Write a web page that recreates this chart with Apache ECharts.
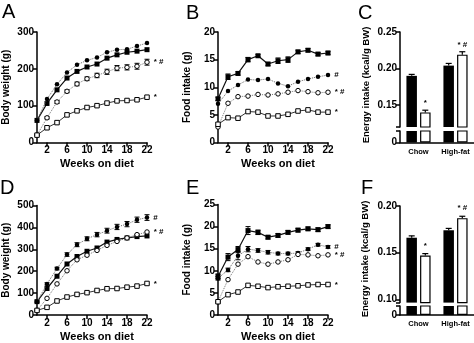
<!DOCTYPE html>
<html>
<head>
<meta charset="utf-8">
<script src="https://cdn.jsdelivr.net/npm/echarts@6/dist/echarts.min.js"></script>
<style>
  html, body { margin: 0; padding: 0; background: #fff; }
  #chart { width: 474px; height: 343px; }
</style>
</head>
<body>
<div id="chart"></div>
<script>
// ---- Data ----
const weeks = [0, 2, 4, 6, 8, 10, 12, 14, 16, 18, 20, 22];
const weekTicks = [2, 6, 10, 14, 18, 22];

// Panel A: body weight (g)
const aFilledSquare = [60, 106, 143, 175, 193, 205, 213, 229, 238, 245, 248, 252];
const aFilledCircle = [60, 118, 158, 190, 211, 223, 231, 245, 252, 253, 262, 270];
const aOpenCircle   = [20, 67, 110, 139, 159, 173, 182, 192, 202, 204, 207, 218];
const aOpenSquare   = [20, 40, 54, 75, 86, 95, 100, 107, 113, 114, 116, 123];
const aOpenCircleErr = [1, 3, 4, 4, 5, 5, 6, 7, 7, 7, 8, 8];
const aNotes = ['', '', '* #', '*'];

// Panel B: food intake (g)
const bFilledSquare = [7.9, 11.9, 12.5, 15.0, 15.7, 14.2, 14.8, 15.0, 16.4, 16.7, 16.0, 16.2];
const bFilledCircle = [7.0, 9.3, 10.4, 11.4, 11.3, 11.5, 10.7, 10.2, 11.0, 11.5, 11.9, 12.2];
const bOpenCircle   = [2.8, 7.1, 8.3, 8.4, 8.7, 8.6, 8.8, 9.1, 9.4, 9.2, 9.0, 9.1];
const bOpenSquare   = [3.3, 4.5, 4.4, 5.6, 5.5, 4.8, 4.8, 5.1, 5.7, 5.9, 5.5, 5.5];
const bFilledSquareErr = [0.3, 0.5, 0.3, 0.4, 0.2, 0.3, 0.5, 0.5, 0.3, 0.3, 0.3, 0.3];
const bNotes = ['', '#', '* #', '*'];

// Panel D: body weight (g)
const dFilledSquare = [61, 121, 177, 233, 267, 291, 306, 333, 345, 352, 358, 361];
const dFilledCircle = [61, 142, 212, 276, 321, 348, 367, 385, 402, 415, 435, 445];
const dOpenCircle   = [21, 76, 142, 202, 252, 273, 295, 318, 336, 352, 367, 379];
const dOpenSquare   = [21, 35, 64, 82, 94, 102, 112, 120, 121, 127, 132, 144];
const dFilledCircleErr = [3, 5, 6, 8, 9, 9, 10, 11, 12, 12, 12, 13];
const dNotes = ['', '#', '* #', '*'];

// Panel E: food intake (g)
const eFilledSquare = [8.7, 13.1, 14.8, 19.1, 18.7, 17.6, 18.0, 18.7, 19.2, 19.5, 19.3, 20.0];
const eFilledCircle = [8.3, 10.2, 13.4, 14.9, 14.6, 14.2, 13.9, 13.9, 14.0, 14.9, 15.9, 15.4];
const eOpenCircle   = [3.0, 8.0, 11.5, 13.2, 12.0, 11.5, 12.0, 12.5, 13.7, 13.6, 13.4, 13.6];
const eOpenSquare   = [3.0, 4.6, 5.2, 6.7, 6.5, 6.2, 6.4, 6.5, 6.6, 6.8, 6.9, 6.9];
const eFilledSquareErr = [0.6, 0.8, 0.7, 0.9, 0.5, 0.4, 0.4, 0.4, 0.4, 0.4, 0.4, 0.4];
const eFilledCircleErr = [0.4, 0.4, 0.9, 0.6, 0.4, 0.4, 0.3, 0.3, 0.3, 0.3, 0.3, 0.3];
const eNotes = ['', '#', '* #', '*'];

// Panels C and F: energy intake (kcal/g BW)
const dietGroups = ['Chow', 'High-fat'];
const cBlack = [0.190, 0.204];
const cBlackErr = [0.002, 0.003];
const cWhite = [0.140, 0.219];
const cWhiteErr = [0.003, 0.004];
const fBlack = [0.166, 0.174];
const fBlackErr = [0.002, 0.002];
const fWhite = [0.147, 0.187];
const fWhiteErr = [0.002, 0.002];
const barNotes = ['*', '* #'];

// ---- Styling helpers ----
const FONT = 'Liberation Sans, Arial, sans-serif';
const markStyles = [
  { symbol: 'rect',   size: 5,   fill: '#000', lineType: 'solid',  lineColor: '#111', lineWidth: 1.2 },
  { symbol: 'circle', size: 4.5, fill: '#000', lineType: 'dotted', lineColor: '#666', lineWidth: 1 },
  { symbol: 'circle', size: 4.5, fill: '#fff', lineType: 'dotted', lineColor: '#777', lineWidth: 1 },
  { symbol: 'rect',   size: 4.5, fill: '#fff', lineType: 'solid',  lineColor: '#333', lineWidth: 1 }
];

const grids = [
  { left: 37,  top: 32,    width: 110, height: 110.5 }, // A
  { left: 218, top: 32,    width: 110, height: 110.5 }, // B
  { left: 400, top: 32,    width: 74,  height: 95 },    // C upper
  { left: 400, top: 131,   width: 74,  height: 11.5 },  // C lower
  { left: 37,  top: 205.5, width: 110, height: 109.5 }, // D
  { left: 218, top: 204.5, width: 110, height: 110.5 }, // E
  { left: 400, top: 206,   width: 74,  height: 96.6 },  // F upper
  { left: 400, top: 306,   width: 74,  height: 9 }      // F lower
];

const axisLineStyle = { show: true, lineStyle: { color: '#000', width: 1.5 } };
const tickStyle = { show: true, length: 4, lineStyle: { color: '#000', width: 1.5 } };
const labelStyle = { color: '#000', fontSize: 10, fontWeight: 'bold', fontFamily: FONT, margin: 3 };
const nameStyle = { color: '#000', fontSize: 10, fontWeight: 'bold', fontFamily: FONT };

function weekAxis(gi) {
  return {
    type: 'value', gridIndex: gi, min: 0, max: 22,
    axisLine: axisLineStyle,
    axisTick: Object.assign({ customValues: weekTicks }, tickStyle),
    axisLabel: Object.assign({ customValues: weekTicks }, labelStyle),
    splitLine: { show: false },
    name: 'Weeks on diet', nameLocation: 'middle', nameGap: 16,
    nameTextStyle: Object.assign({ padding: [0, 0, 0, 10] }, nameStyle, { fontSize: 11 })
  };
}

function valueAxis(gi, max, interval, title) {
  return {
    type: 'value', gridIndex: gi, min: 0, max: max, interval: interval,
    axisLine: axisLineStyle, axisTick: tickStyle, axisLabel: labelStyle,
    splitLine: { show: false },
    name: title, nameLocation: 'middle', nameRotate: 90, nameGap: 26,
    nameTextStyle: nameStyle
  };
}

function lineSeries(gi, values, k, note) {
  const st = markStyles[k];
  const last = weeks.length - 1;
  return {
    type: 'line', xAxisIndex: gi, yAxisIndex: gi, animation: false,
    symbol: st.symbol, symbolSize: st.size, z: 3 + k,
    lineStyle: { color: st.lineColor, width: st.lineWidth, type: st.lineType },
    itemStyle: { color: st.fill, borderColor: '#000', borderWidth: st.fill === '#fff' ? 1 : 0 },
    data: weeks.map(function (w, i) {
      const item = { value: [w, values[i]] };
      if (i === last && note) {
        item.label = {
          show: true, position: 'right', distance: 4, formatter: note,
          color: '#000', fontSize: 8, fontWeight: 'bold', fontFamily: FONT
        };
      }
      return item;
    })
  };
}

function errorSeries(gi, values, errs) {
  return {
    type: 'custom', xAxisIndex: gi, yAxisIndex: gi, animation: false, z: 2,
    encode: { x: 0, y: [1, 2] },
    data: weeks.map(function (w, i) { return [w, values[i] - errs[i], values[i] + errs[i]]; }),
    renderItem: function (params, api) {
      const lo = api.coord([api.value(0), api.value(1)]);
      const hi = api.coord([api.value(0), api.value(2)]);
      const s = { stroke: '#000', lineWidth: 1 };
      return {
        type: 'group', children: [
          { type: 'line', shape: { x1: lo[0], y1: lo[1], x2: hi[0], y2: hi[1] }, style: s },
          { type: 'line', shape: { x1: hi[0] - 2.5, y1: hi[1], x2: hi[0] + 2.5, y2: hi[1] }, style: s },
          { type: 'line', shape: { x1: lo[0] - 2.5, y1: lo[1], x2: lo[0] + 2.5, y2: lo[1] }, style: s }
        ]
      };
    }
  };
}

function panelLines(gi, sets, notes) {
  return sets.map(function (vals, k) { return lineSeries(gi, vals, k, notes[k]); });
}

// Bars: black and white groups, offset from category centre
const BAR_W = 10.5;
const BAR_OFFSET = 6.8;

function barSeries(gi, values, white, withNotes) {
  const s = {
    type: 'bar', xAxisIndex: gi, yAxisIndex: gi, animation: false,
    barWidth: BAR_W, barGap: '30%', clip: true,
    itemStyle: white ? { color: '#fff', borderColor: '#000', borderWidth: 1.2 } : { color: '#000' },
    data: values.slice()
  };
  if (withNotes) {
    s.label = {
      show: true, position: 'top', distance: 6,
      formatter: function (p) { return barNotes[p.dataIndex]; },
      color: '#000', fontSize: 8, fontWeight: 'bold', fontFamily: FONT
    };
  }
  return s;
}

function barErrorSeries(gi, values, errs, side) {
  return {
    type: 'custom', xAxisIndex: gi, yAxisIndex: gi, animation: false, z: 5,
    encode: { x: 0, y: [1, 2] },
    data: values.map(function (v, i) { return [i, v, v + errs[i]]; }),
    renderItem: function (params, api) {
      const lo = api.coord([api.value(0), api.value(1)]);
      const hi = api.coord([api.value(0), api.value(2)]);
      const x = lo[0] + side * BAR_OFFSET;
      const s = { stroke: '#000', lineWidth: 1.2 };
      return {
        type: 'group', children: [
          { type: 'line', shape: { x1: x, y1: lo[1], x2: x, y2: hi[1] }, style: s },
          { type: 'line', shape: { x1: x - 3, y1: hi[1], x2: x + 3, y2: hi[1] }, style: s }
        ]
      };
    }
  };
}

function catAxis(gi, visible) {
  return {
    type: 'category', gridIndex: gi, data: dietGroups, show: visible,
    axisLine: axisLineStyle, axisTick: { show: false },
    axisLabel: { color: '#000', fontSize: 7.5, fontWeight: 'bold', fontFamily: FONT, margin: 5 },
    splitLine: { show: false }
  };
}

function upperBarAxis(gi, min, max, ticks) {
  return {
    type: 'value', gridIndex: gi, min: min, max: max,
    axisLine: axisLineStyle,
    axisTick: Object.assign({ customValues: [min].concat(ticks) }, tickStyle),
    axisLabel: Object.assign({ customValues: ticks, formatter: function (v) { return v.toFixed(2); } }, labelStyle),
    splitLine: { show: false }
  };
}

// Short stub below the axis break, showing only the zero line
function lowerBarAxis(gi) {
  return {
    type: 'value', gridIndex: gi, min: 0, max: 0.01,
    axisLine: axisLineStyle,
    axisTick: Object.assign({ customValues: [0, 0.01] }, tickStyle),
    axisLabel: Object.assign({ customValues: [0] }, labelStyle),
    splitLine: { show: false }
  };
}

function panelLetter(ch, x, y) {
  return { type: 'text', left: x, top: y, style: { text: ch, fill: '#000', fontSize: 20, fontFamily: FONT, fontWeight: 'normal' } };
}

function verticalTitle(text, x, y) {
  return {
    type: 'text', x: x, y: y, rotation: Math.PI / 2,
    style: { text: text, fill: '#000', fontSize: 9.5, fontWeight: 'bold', fontFamily: FONT, align: 'center', verticalAlign: 'middle' }
  };
}

const option = {
  animation: false,
  backgroundColor: '#fff',
  textStyle: { fontFamily: FONT },
  grid: grids,
  xAxis: [
    weekAxis(0), weekAxis(1),
    catAxis(2, false), catAxis(3, true),
    weekAxis(4), weekAxis(5),
    catAxis(6, false), catAxis(7, true)
  ],
  yAxis: [
    valueAxis(0, 300, 100, 'Body weight (g)'),
    valueAxis(1, 20, 5, 'Food intake (g)'),
    upperBarAxis(2, 0.12, 0.25, [0.15, 0.20, 0.25]),
    lowerBarAxis(3),
    valueAxis(4, 500, 100, 'Body weight (g)'),
    valueAxis(5, 25, 5, 'Food intake (g)'),
    upperBarAxis(6, 0.0965, 0.20, [0.10, 0.15, 0.20]),
    lowerBarAxis(7)
  ],
  graphic: [
    panelLetter('A', 2, 2), panelLetter('B', 186, 3), panelLetter('C', 358, 3),
    panelLetter('D', 0, 178), panelLetter('E', 186, 178), panelLetter('F', 361, 178),
    verticalTitle('Energy intake (kcal/g BW)', 366, 85),
    verticalTitle('Energy intake (kcal/g BW)', 365, 259)
  ],
  series: [].concat(
    panelLines(0, [aFilledSquare, aFilledCircle, aOpenCircle, aOpenSquare], aNotes),
    [errorSeries(0, aOpenCircle, aOpenCircleErr)],
    panelLines(1, [bFilledSquare, bFilledCircle, bOpenCircle, bOpenSquare], bNotes),
    [errorSeries(1, bFilledSquare, bFilledSquareErr)],
    panelLines(4, [dFilledSquare, dFilledCircle, dOpenCircle, dOpenSquare], dNotes),
    [errorSeries(4, dFilledCircle, dFilledCircleErr)],
    panelLines(5, [eFilledSquare, eFilledCircle, eOpenCircle, eOpenSquare], eNotes),
    [errorSeries(5, eFilledSquare, eFilledSquareErr), errorSeries(5, eFilledCircle, eFilledCircleErr)],
    [
      barSeries(2, cBlack, false, false), barSeries(2, cWhite, true, true),
      barSeries(3, cBlack, false, false), barSeries(3, cWhite, true, false),
      barErrorSeries(2, cBlack, cBlackErr, -1), barErrorSeries(2, cWhite, cWhiteErr, 1),
      barSeries(6, fBlack, false, false), barSeries(6, fWhite, true, true),
      barSeries(7, fBlack, false, false), barSeries(7, fWhite, true, false),
      barErrorSeries(6, fBlack, fBlackErr, -1), barErrorSeries(6, fWhite, fWhiteErr, 1)
    ]
  )
};

const chart = echarts.init(document.getElementById('chart'));
chart.setOption(option);
</script>
</body>
</html>
